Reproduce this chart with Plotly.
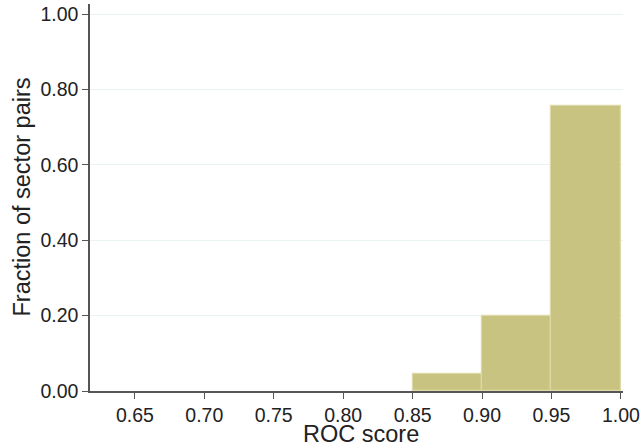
import plotly.graph_objects as go

bin_left = [0.85, 0.90, 0.95]
bin_right = [0.90, 0.95, 1.00]
fraction = [0.045, 0.20, 0.756]

x_ticks = [0.65, 0.70, 0.75, 0.80, 0.85, 0.90, 0.95, 1.00]
y_ticks = [0.0, 0.2, 0.4, 0.6, 0.8, 1.0]

centers = [(a + b) / 2 for a, b in zip(bin_left, bin_right)]
widths = [b - a for a, b in zip(bin_left, bin_right)]

fig = go.Figure()
fig.add_trace(go.Bar(
    x=centers, y=fraction, width=widths,
    marker=dict(color="#c9c382", line=dict(color="#dedaa8", width=1.2)),
))

font = "Liberation Sans, Arial, sans-serif"
L, R, T, B = 90, 17, 4, 54
W, H = 640, 445
pw, ph = W - L - R, H - T - B
fig.update_layout(
    width=W, height=H,
    margin=dict(l=L, r=R, t=T, b=B, autoexpand=False),
    paper_bgcolor="white", plot_bgcolor="white",
    showlegend=False,
    bargap=0,
    font=dict(family=font, size=19.5, color="#222"),
    xaxis=dict(
        range=[0.6177, 1.0015],
        tickvals=x_ticks, ticktext=[f"{v:.2f}" for v in x_ticks],
        showgrid=False, zeroline=False,
        showline=True, linecolor="#555", linewidth=1.5,
        ticks="outside", ticklen=6, tickcolor="#555", tickwidth=1.2,
        automargin=False, ticklabeloverflow="allow",
    ),
    yaxis=dict(
        range=[0, 1.027],
        tickvals=y_ticks, ticktext=[f"{v:.2f}" for v in y_ticks],
        showgrid=True, gridcolor="#eaf2f3", gridwidth=1.2,
        zeroline=False,
        showline=True, linecolor="#555", linewidth=1.5,
        ticks="outside", ticklen=6, tickcolor="#555", tickwidth=1.2,
        automargin=False,
    ),
    annotations=[
        dict(text="ROC score", xref="paper", yref="paper",
             x=(361 - L) / pw, y=0, yshift=-43, xanchor="center", yanchor="middle",
             showarrow=False, font=dict(size=23.5, color="#222")),
        dict(text="Fraction of sector pairs", xref="paper", yref="paper",
             x=0, y=0.5, xshift=-69, textangle=-90, xanchor="center", yanchor="middle",
             showarrow=False, font=dict(size=23.5, color="#222")),
    ],
)
fig.write_html("out.html", config={"displayModeBar": False},
               post_script="document.body.style.margin='0';document.body.style.overflow='hidden';")
